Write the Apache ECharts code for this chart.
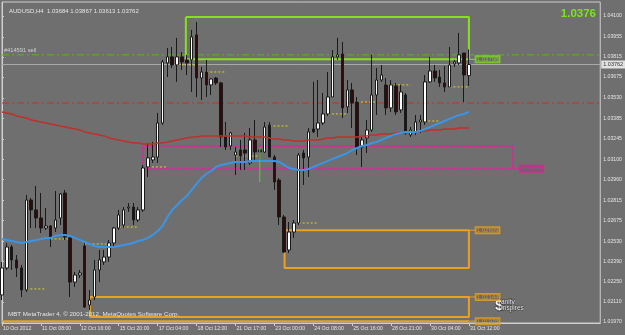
<!DOCTYPE html>
<html><head><meta charset="utf-8">
<script src="https://cdn.jsdelivr.net/npm/echarts@6/dist/echarts.min.js"></script>
<style>html,body{margin:0;padding:0;background:#6f6f6f;}#c{width:625px;height:335px;}</style>
</head><body><div id="c"></div>
<script>
// ---------- data ----------
const symbolTitle = 'AUDUSD,H4  1.03684 1.03867 1.03613 1.03762';
const tickLabels = ['10 Oct 2012','11 Oct 08:00','12 Oct 16:00','15 Oct 20:00','17 Oct 04:00','18 Oct 12:00','21 Oct 17:00','23 Oct 00:00','24 Oct 08:00','25 Oct 16:00','28 Oct 21:00','30 Oct 04:00','31 Oct 12:00'];
const barsPerLabel = 8;
const slotCount = 124;
const priceTicks = [1.01970,1.02110,1.02250,1.02390,1.02530,1.02675,1.02815,1.02960,1.03100,1.03245,1.03385,1.03530,1.03675,1.03815,1.03955,1.04100];
const priceMin = 1.01963, priceMax = 1.04197;

const opens = [1.02158,1.02346,1.02492,1.02402,1.02346,1.02193,1.02819,1.02750,1.02694,1.02624,1.02638,1.02624,1.02694,1.02868,1.02555,1.02248,1.02297,1.02499,1.02088,1.02144,1.02332,1.02388,1.02422,1.02520,1.02624,1.02645,1.02763,1.02770,1.02680,1.02750,1.03049,1.03098,1.03118,1.03355,1.03773,1.03815,1.03759,1.03815,1.03794,1.03794,1.03968,1.03668,1.03710,1.03620,1.03668,1.03634,1.03258,1.03195,1.03132,1.03167,1.03167,1.03077,1.03237,1.03167,1.03153,1.03341,1.03118,1.02958,1.02701,1.02471,1.02596,1.02659,1.03146,1.03118,1.03313,1.03313,1.03355,1.03418,1.03536,1.03815,1.03835,1.03467,1.03585,1.03501,1.03188,1.03251,1.03306,1.03550,1.03654,1.03620,1.03460,1.03613,1.03446,1.03550,1.03272,1.03293,1.03362,1.03362,1.03641,1.03717,1.03675,1.03634,1.03606,1.03766,1.03773,1.03842,1.03684];
const closes = [1.02346,1.02492,1.02402,1.02346,1.02193,1.02819,1.02750,1.02694,1.02624,1.02638,1.02562,1.02680,1.02861,1.02562,1.02248,1.02297,1.02311,1.02074,1.02123,1.02332,1.02402,1.02422,1.02520,1.02624,1.02715,1.02750,1.02770,1.02680,1.02750,1.03042,1.03112,1.03118,1.03355,1.03780,1.03815,1.03759,1.03815,1.03780,1.03773,1.03954,1.03668,1.03710,1.03620,1.03661,1.03634,1.03258,1.03188,1.03286,1.03153,1.03125,1.03146,1.03237,1.03153,1.03153,1.03327,1.03118,1.02944,1.02701,1.02457,1.02596,1.02659,1.03132,1.03112,1.03293,1.03293,1.03355,1.03418,1.03536,1.03815,1.03829,1.03460,1.03585,1.03494,1.03181,1.03237,1.03306,1.03550,1.03654,1.03689,1.03460,1.03620,1.03432,1.03571,1.03286,1.03306,1.03362,1.03376,1.03641,1.03717,1.03668,1.03634,1.03606,1.03759,1.03780,1.03829,1.03689,1.03762];
const lows = [1.02123,1.02332,1.02332,1.02283,1.02144,1.02179,1.02624,1.02624,1.02589,1.02610,1.02492,1.02596,1.02645,1.02541,1.02144,1.02214,1.02276,1.02067,1.02053,1.02123,1.02248,1.02367,1.02388,1.02492,1.02610,1.02624,1.02736,1.02645,1.02666,1.02736,1.02979,1.03077,1.03077,1.03341,1.03675,1.03738,1.03641,1.03724,1.03689,1.03571,1.03536,1.03515,1.03536,1.03550,1.03620,1.03188,1.03167,1.03167,1.02993,1.03028,1.03028,1.03063,1.03084,1.03098,1.03146,1.03118,1.02889,1.02645,1.02450,1.02450,1.02555,1.02645,1.02924,1.02979,1.03286,1.03258,1.03341,1.03404,1.03536,1.03794,1.03390,1.03425,1.03320,1.03132,1.03049,1.03146,1.03293,1.03411,1.03641,1.03411,1.03432,1.03411,1.03425,1.03272,1.03258,1.03272,1.03286,1.03341,1.03634,1.03641,1.03606,1.03571,1.03606,1.03745,1.03759,1.03501,1.03613];
const highs = [1.02388,1.02520,1.02506,1.02436,1.02367,1.02854,1.02833,1.02917,1.02868,1.02763,1.02645,1.02882,1.02868,1.02889,1.02562,1.02318,1.02332,1.02520,1.02193,1.02402,1.02471,1.02471,1.02541,1.02631,1.02750,1.02770,1.02798,1.02798,1.02770,1.03063,1.03216,1.03223,1.03425,1.03794,1.03877,1.03884,1.03947,1.03849,1.03829,1.04003,1.04058,1.03745,1.03794,1.03668,1.03675,1.03641,1.03362,1.03293,1.03188,1.03237,1.03286,1.03320,1.03376,1.03188,1.03362,1.03362,1.03132,1.02972,1.02715,1.02666,1.02680,1.03146,1.03167,1.03320,1.03641,1.03654,1.03564,1.03710,1.03863,1.03947,1.03919,1.03654,1.03634,1.03536,1.03258,1.03376,1.03829,1.03738,1.03759,1.03668,1.03654,1.03634,1.03620,1.03564,1.03327,1.03411,1.03411,1.03689,1.03815,1.03759,1.03724,1.03752,1.03884,1.03794,1.03982,1.03842,1.03867];

const maSlow = [1.03432,1.03425,1.03418,1.03404,1.03397,1.03390,1.03376,1.03369,1.03362,1.03355,1.03348,1.03341,1.03334,1.03327,1.03320,1.03313,1.03306,1.03293,1.03286,1.03279,1.03272,1.03265,1.03251,1.03244,1.03237,1.03230,1.03223,1.03216,1.03216,1.03209,1.03209,1.03209,1.03216,1.03216,1.03223,1.03230,1.03237,1.03244,1.03251,1.03258,1.03258,1.03265,1.03265,1.03265,1.03265,1.03265,1.03265,1.03265,1.03265,1.03265,1.03265,1.03258,1.03258,1.03258,1.03258,1.03251,1.03244,1.03244,1.03237,1.03237,1.03230,1.03230,1.03230,1.03237,1.03237,1.03237,1.03244,1.03251,1.03251,1.03258,1.03258,1.03258,1.03258,1.03258,1.03265,1.03265,1.03272,1.03272,1.03279,1.03279,1.03279,1.03286,1.03286,1.03286,1.03293,1.03293,1.03300,1.03300,1.03306,1.03306,1.03306,1.03313,1.03313,1.03313,1.03320,1.03320,1.03320];
const maFast = [1.02548,1.02541,1.02534,1.02527,1.02520,1.02527,1.02534,1.02541,1.02548,1.02555,1.02555,1.02569,1.02576,1.02576,1.02569,1.02555,1.02541,1.02527,1.02513,1.02499,1.02492,1.02492,1.02492,1.02492,1.02499,1.02506,1.02513,1.02520,1.02534,1.02541,1.02555,1.02576,1.02603,1.02638,1.02701,1.02750,1.02784,1.02819,1.02847,1.02889,1.02931,1.02972,1.03000,1.03021,1.03049,1.03063,1.03070,1.03077,1.03084,1.03084,1.03084,1.03091,1.03091,1.03091,1.03091,1.03091,1.03091,1.03084,1.03063,1.03042,1.03035,1.03028,1.03028,1.03035,1.03049,1.03063,1.03077,1.03091,1.03105,1.03118,1.03132,1.03146,1.03167,1.03181,1.03195,1.03202,1.03216,1.03223,1.03237,1.03251,1.03265,1.03279,1.03286,1.03293,1.03293,1.03293,1.03300,1.03313,1.03327,1.03341,1.03355,1.03369,1.03383,1.03397,1.03411,1.03418,1.03432];

// short dotted yellow level marks: level, first bar, last bar
const markLevels = [1.02200,1.02548,1.02513,1.02631,1.03049,1.03759,1.03710,1.03125,1.03334,1.02659,1.03418,1.03501,1.03620,1.03369,1.03606];
const markFrom   = [5,10,17,24,30,36,42,48,55,61,67,73,79,86,92];
const markTo     = [9,14,22,28,34,40,46,53,59,65,71,77,84,90,96];

// rectangles: from bar, to bar, top price, bottom price
const boxNames  = ['resistance','zone','support1','support2'];
const boxFrom   = [37.8, 28.9, 58.1, 18.1];
const boxTo     = [96, 105, 96, 96];
const boxTop    = [1.04093, 1.03195, 1.02609, 1.02144];
const boxBottom = [1.03798, 1.03037, 1.02346, 1.02005];
const boxColors = ['#86e01e', '#e0259a', '#eaa11f', '#eaa11f'];
const lowLine = 1.01976;
const boxLabels = [1.03798, 1.03037, 1.02609, 1.02144, 1.01976];
const boxLabelBar = [96, 105, 96, 96, 96];
const boxLabelColors = ['#86e01e', '#e0259a', '#eaa11f', '#eaa11f', '#eaa11f'];

const sellLevel = 1.03829, stopLevel = 1.03494, bidLevel = 1.03762;
const sellText = '#414591 sell';
const cursorBar = 53, cursorTop = 1.03188, cursorBottom = 1.02944;

// ---------- chart ----------
const categories = Array.from({length: slotCount}, (_, i) => 'b' + i);
const lastBar = opens.length - 1;
const lastSlot = slotCount - 1;
const candleData = opens.map((o, i) => [o, closes[i], lows[i], highs[i]]);
const txt = '#e4e4e4';
const font = 'Liberation Sans';

const series = [];
series.push({
  type: 'candlestick', xAxisIndex: 0, yAxisIndex: 0, data: candleData, barWidth: 3,
  itemStyle: {color: '#ffffff', color0: '#2e0c0c', borderColor: '#1a1a1a', borderColor0: '#1a1a1a', borderWidth: 1},
  z: 5
});
series.push({type: 'line', xAxisIndex: 0, yAxisIndex: 0, data: maSlow, showSymbol: false, lineStyle: {color: '#c0302a', width: 1.5}, z: 6, silent: true});
series.push({type: 'line', xAxisIndex: 0, yAxisIndex: 0, data: maFast, showSymbol: false, lineStyle: {color: '#3b95e6', width: 2}, z: 6, silent: true});

// full-width horizontal levels
series.push({type: 'line', xAxisIndex: 1, yAxisIndex: 0, data: [[0, stopLevel], [lastSlot, stopLevel]], showSymbol: false,
  lineStyle: {color: '#c8302c', type: [7,3,2,3], width: 1}, z: 2, silent: true});
series.push({type: 'line', xAxisIndex: 1, yAxisIndex: 0, data: [[0, sellLevel], [lastSlot, sellLevel]], showSymbol: false,
  lineStyle: {color: '#56b81c', type: [7,3,2,3], width: 1}, z: 2, silent: true});
series.push({type: 'line', xAxisIndex: 1, yAxisIndex: 0, data: [[0, bidLevel], [lastSlot, bidLevel]], showSymbol: false,
  lineStyle: {color: '#a9a9a9', width: 1}, z: 2, silent: true});
series.push({type: 'scatter', xAxisIndex: 1, yAxisIndex: 0, symbolSize: 0, z: 9, silent: true,
  data: [
    {value: [0.4, sellLevel], label: {show: true, position: 'top', align: 'left', distance: 1, formatter: sellText, color: txt, fontSize: 5.7, fontFamily: font}},
    {value: [lastSlot, bidLevel], label: {show: true, position: 'right', distance: 1, formatter: bidLevel.toFixed(5), color: '#000', backgroundColor: '#ffffff', fontSize: 5.5, fontFamily: font, padding: [1, 2, 1, 2]}}
  ]});

markLevels.forEach((lv, k) => {
  series.push({type: 'line', xAxisIndex: 1, yAxisIndex: 0, data: [[markFrom[k], lv], [markTo[k], lv]], showSymbol: false,
    lineStyle: {color: '#e0d21c', width: 1, type: [2, 2]}, z: 4, silent: true});
});

boxNames.forEach((nm, k) => {
  const x0 = boxFrom[k], x1 = boxTo[k], t = boxTop[k], b = boxBottom[k];
  const dotted = nm === 'zone';
  series.push({type: 'line', name: nm, xAxisIndex: 1, yAxisIndex: 0,
    data: [[x0, t], [x1, t], [x1, b], [x0, b], [x0, t]], showSymbol: false,
    lineStyle: {color: boxColors[k], width: 2, type: dotted ? [2, 1] : 'solid'}, z: 3, silent: true});
});
series.push({type: 'line', xAxisIndex: 1, yAxisIndex: 0, data: [[0, lowLine], [lastBar, lowLine]], showSymbol: false,
  lineStyle: {color: '#eaa11f', width: 2}, z: 3, silent: true});

// connectors + value tags
boxLabels.forEach((v, k) => {
  series.push({type: 'line', xAxisIndex: 1, yAxisIndex: 0, data: [[boxLabelBar[k], v], [boxLabelBar[k] + 1.4, v]], showSymbol: false,
    lineStyle: {color: boxLabelColors[k], width: 1}, z: 3, silent: true});
});
series.push({type: 'scatter', xAxisIndex: 1, yAxisIndex: 0, symbolSize: 0, z: 7, silent: true,
  data: boxLabels.map((v, k) => ({value: [boxLabelBar[k] + 1.4, v],
    label: {show: true, position: 'right', distance: 0, formatter: v.toFixed(5), color: boxLabelColors[k], fontSize: 6, fontFamily: font,
      borderColor: boxLabelColors[k], borderWidth: 1, padding: [0, 1], backgroundColor: 'rgba(0,0,0,0.08)'}}))});

series.push({type: 'line', xAxisIndex: 1, yAxisIndex: 0, data: [[cursorBar, cursorTop], [cursorBar, cursorBottom]], showSymbol: false,
  lineStyle: {color: '#3ee01a', width: 1}, z: 8, silent: true});

const chart = echarts.init(document.getElementById('c'), null, {renderer: 'canvas'});
chart.setOption({
  animation: false,
  backgroundColor: '#6f6f6f',
  grid: {left: 2, right: 23, top: 2, bottom: 12, show: true, borderColor: '#cfcfcf', borderWidth: 1, backgroundColor: 'transparent'},
  title: [
    {text: symbolTitle, left: 4, top: 3, textStyle: {color: txt, fontSize: 6, fontWeight: 'normal', fontFamily: font}},
    {text: bidLevel.toFixed(4), right: 24, top: 3, textStyle: {color: '#7ae61a', fontSize: 11.5, fontWeight: 'bold', fontFamily: font}},
    {text: 'MBT MetaTrader 4, © 2001-2012, MetaQuotes Software Corp.', left: 3, bottom: 13, textStyle: {color: txt, fontSize: 6.2, fontWeight: 'normal', fontFamily: font}},
    {text: '$', left: 490, bottom: 16, textStyle: {color: '#f4f4f4', fontSize: 15, fontWeight: 'bold', fontFamily: font, textBorderColor: '#222', textBorderWidth: 1}},
    {text: 'anity\nInspires', left: 496, bottom: 17, textStyle: {color: '#f0f0f0', fontSize: 6.5, lineHeight: 6, fontWeight: 'normal', fontFamily: font, textBorderColor: '#333', textBorderWidth: 0.8}}
  ],
  xAxis: [
    {type: 'category', data: categories, boundaryGap: false, gridIndex: 0,
      axisLine: {show: true, lineStyle: {color: '#cfcfcf'}},
      axisTick: {show: true, length: 3, interval: (i) => i % barsPerLabel === 0 && i <= lastBar, lineStyle: {color: '#cfcfcf'}},
      axisLabel: {show: true, interval: (i) => i % barsPerLabel === 0 && i <= lastBar, formatter: (v, i) => tickLabels[i / barsPerLabel] || '',
        color: txt, fontSize: 5.2, fontFamily: font, align: 'left', margin: 3, padding: [0, 0, 0, 1]},
      splitLine: {show: false}},
    {type: 'value', min: 0, max: lastSlot, show: false, gridIndex: 0}
  ],
  yAxis: [{type: 'value', position: 'right', min: priceMin, max: priceMax, scale: true,
    axisLine: {show: true, lineStyle: {color: '#cfcfcf'}},
    axisTick: {show: true, length: 2, customValues: priceTicks, lineStyle: {color: '#cfcfcf'}},
    axisLabel: {show: true, customValues: priceTicks, formatter: (v) => v.toFixed(5), color: txt, fontSize: 5.2, fontFamily: font, margin: 3},
    splitLine: {show: false}}],
  series: series
});
</script></body></html>
